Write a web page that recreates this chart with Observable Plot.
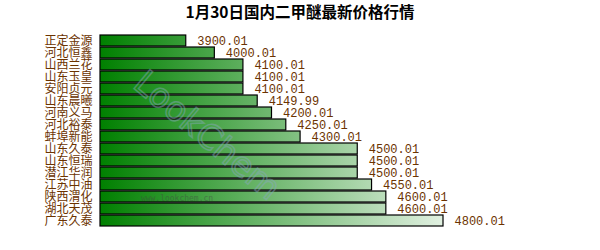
<!DOCTYPE html>
<html><head><meta charset="utf-8">
<script src="https://cdn.jsdelivr.net/npm/d3@7"></script>
<script src="https://cdn.jsdelivr.net/npm/@observablehq/plot@0.6"></script>
<style>
body{margin:0;background:#fff;}
#title{height:24px;line-height:26px;text-align:center;font:bold 15.5px "Noto Sans CJK SC",sans-serif;color:#000;width:600px;}
</style></head>
<body>
<div id="title">1月30日国内二甲醚最新价格行情</div>
<div id="chart"></div>
<script>
const companies = ["正定金源","河北恒鑫","山西兰花","山东玉皇","安阳贞元","山东晨曦","河南义马","河北裕泰","蚌埠新能","山东久泰","山东恒瑞","潜江华润","江苏中油","陕西渭化","湖北天茂","广东久泰"];
const prices = [3900.01,4000.01,4100.01,4100.01,4100.01,4149.99,4200.01,4250.01,4300.01,4500.01,4500.01,4500.01,4550.01,4600.01,4600.01,4800.01];
const xDomain = [3600, 4800];

const data = companies.map((c, i) => ({company: c, price: prices[i], base: xDomain[0]}));

const chart = Plot.plot({
  width: 600,
  height: 226,
  marginLeft: 100,
  marginRight: 157,
  marginTop: 6.5,
  marginBottom: 19.5,
  x: {domain: xDomain, axis: null},
  y: {domain: companies, padding: 0.1, label: null, axis: null},
  style: {fontFamily: "'Noto Sans CJK SC', sans-serif", fontSize: "12px", color: "#6b3300", background: "#fff"},
  marks: [
    Plot.axisY({tickSize: 0, tickPadding: 8, fontSize: 12, fill: "#6b3300", label: null, letterSpacing: "0.6px"}),
    Plot.barX(data, {y: "company", x1: "base", x2: "price", fill: "url(#barGrad)", stroke: "#000", strokeWidth: 1.2}),
    Plot.text(data, {y: "company", x: "price", text: d => d.price.toFixed(2), dx: 11, textAnchor: "start", fill: "#6b3300", fontFamily: "'Liberation Mono', 'DejaVu Sans Mono', monospace", fontSize: 12})
  ]
});

const svg = d3.select(chart);
const defs = svg.insert("defs", ":first-child");
const g = defs.append("linearGradient").attr("id", "barGrad").attr("gradientUnits", "userSpaceOnUse")
  .attr("x1", 100).attr("x2", 450).attr("y1", 0).attr("y2", 0);
g.append("stop").attr("offset", "0%").attr("stop-color", "#008000");
g.append("stop").attr("offset", "100%").attr("stop-color", "#e6f3e6");

// watermark
svg.append("text").attr("x", 0).attr("y", 0)
  .attr("transform", "translate(200,120) rotate(40)")
  .attr("text-anchor", "middle").attr("font-family", "DejaVu Sans, sans-serif")
  .attr("font-size", 34).attr("fill", "none").attr("stroke", "#8aa8c0").attr("stroke-width", 1.5)
  .attr("opacity", 0.45).text("LookChem");
svg.append("text").attr("x", 177).attr("y", 177)
  .attr("text-anchor", "middle").attr("font-family", "DejaVu Sans Mono, monospace")
  .attr("font-size", 8).attr("fill", "#444").attr("opacity", 0.45).text("www.lookchem.cn");

document.getElementById("chart").appendChild(chart);
</script>
</body></html>
